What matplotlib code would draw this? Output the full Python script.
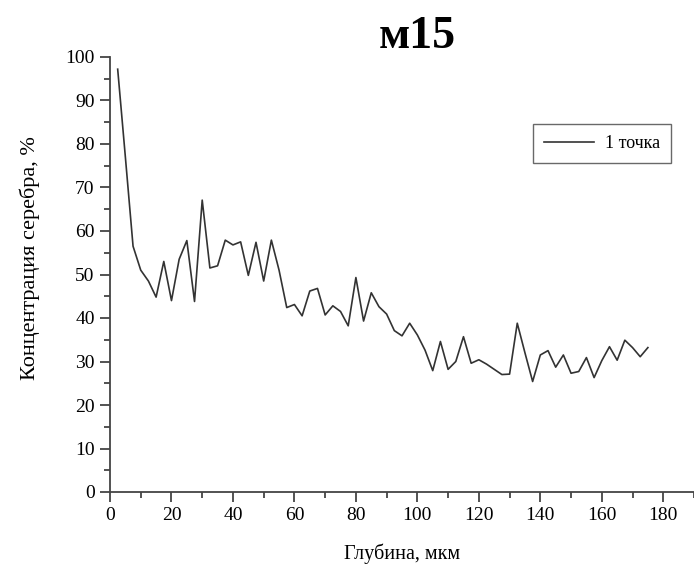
import matplotlib
matplotlib.use("Agg")
from matplotlib import pyplot as plt
from matplotlib.ticker import MultipleLocator

# глубина, мкм
depth = [2.5 * (i + 1) for i in range(70)]
# концентрация серебра, %
silver = [
    97.2, 77.0, 56.5, 51.0, 48.5, 44.8, 53.0, 44.0, 53.5, 57.8,
    43.8, 67.1, 51.5, 52.0, 57.9, 56.8, 57.5, 49.8, 57.4, 48.5,
    57.9, 51.0, 42.4, 43.1, 40.5, 46.2, 46.8, 40.7, 42.8, 41.5,
    38.2, 49.3, 39.3, 45.8, 42.6, 40.9, 37.1, 35.9, 38.8, 36.1,
    32.6, 27.9, 34.6, 28.2, 30.0, 35.7, 29.6, 30.4, 29.4, 28.2,
    27.0, 27.1, 38.8, 32.0, 25.4, 31.5, 32.5, 28.7, 31.5, 27.3,
    27.7, 30.9, 26.3, 30.2, 33.4, 30.3, 34.9, 33.2, 31.1, 33.2,
]

plt.rcParams["font.family"] = ["Liberation Serif", "DejaVu Serif"]

fig = plt.figure(figsize=(6.94, 5.64), dpi=100)
ax = fig.add_axes([110 / 694, 72 / 564, 584 / 694, 435 / 564])

ax.plot(depth, silver, color="#333333", linewidth=1.2, label="1 точка")

ax.set_xlim(0, 190)
ax.set_ylim(0, 100)
ax.xaxis.set_major_locator(MultipleLocator(20))
ax.xaxis.set_minor_locator(MultipleLocator(10))
ax.yaxis.set_major_locator(MultipleLocator(10))
ax.yaxis.set_minor_locator(MultipleLocator(5))

for side in ("top", "right"):
    ax.spines[side].set_visible(False)
for side in ("left", "bottom"):
    ax.spines[side].set_color("#444444")
    ax.spines[side].set_linewidth(1.3)

ax.tick_params(which="major", length=7, width=1.3, color="#444444",
               labelsize=14, pad=4)
ax.tick_params(which="minor", length=4, width=1.3, color="#444444")

ax.set_xlabel("Глубина, мкм", fontsize=14.5, labelpad=14)
ax.set_ylabel("Концентрация серебра, %", fontsize=16)
ax.yaxis.set_label_coords((40 - 110) / 584, (492 - 258) / 435)

fig.text(417 / 694, 1 - 37 / 564, "м15", fontsize=33, fontweight="bold",
         ha="center", va="center")

leg = ax.legend(loc="upper left", bbox_to_anchor=(533 / 694, 1 - 124 / 564),
                bbox_transform=fig.transFigure, fontsize=13, fancybox=False,
                handlelength=2.8, handletextpad=0.6, borderpad=0.6,
                borderaxespad=0)
leg.get_frame().set_edgecolor("#444444")
leg.get_frame().set_linewidth(1.0)

fig.savefig("out.png", dpi=100)
